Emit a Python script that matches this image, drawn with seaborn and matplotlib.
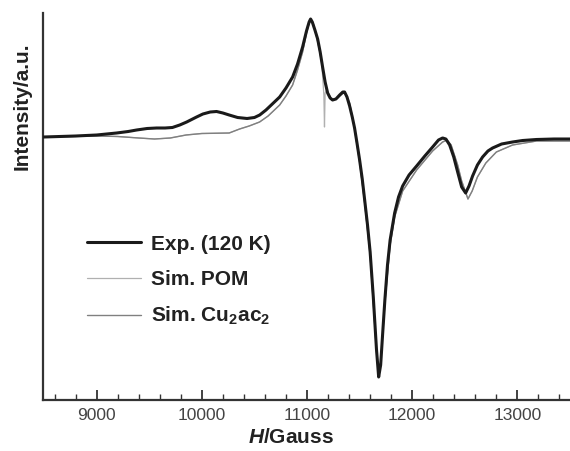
import numpy as np
import pandas as pd
import matplotlib
matplotlib.use("Agg")
import matplotlib.pyplot as plt
from matplotlib.ticker import MultipleLocator, NullLocator
import seaborn as sns

# ---- data (intensity in arbitrary units) ----
exp_field = [8496, 8800, 9000, 9190, 9300, 9380, 9480, 9570, 9650, 9720, 9790, 9856,
             9950, 10010, 10080, 10140, 10200, 10260, 10340, 10430, 10500, 10550, 10610,
             10670, 10740, 10800, 10863, 10910, 10958, 10995, 11020, 11034, 11050, 11075,
             11101, 11125, 11148, 11172, 11196, 11220, 11243, 11275, 11310, 11340, 11357,
             11380, 11405, 11430, 11452, 11475, 11500, 11525, 11548, 11575, 11600, 11630,
             11660, 11681, 11700, 11720, 11740, 11765, 11790, 11833, 11870, 11909, 11970,
             12042, 12120, 12194, 12250, 12289, 12320, 12356, 12395, 12432, 12470, 12508,
             12540, 12574, 12620, 12669, 12720, 12764, 12850, 12954, 13050, 13182, 13350,
             13500]
exp_int = [0, 1, 2, 4, 5.5, 7, 8.5, 9, 9, 9.5, 12, 15,
           20, 23, 25, 25.5, 24, 22, 19.5, 18.5, 19.5, 22, 27,
           33, 40, 49, 60, 73, 90, 106, 115, 118, 115, 107,
           98, 85, 70, 55, 44, 39, 37, 38, 42, 45, 45,
           40, 31, 20, 9, -6, -23, -42, -63, -88, -115, -160,
           -212, -240, -228, -195, -163, -128, -103, -76, -60, -49, -38,
           -29, -19, -10, -3, -1, -2, -8, -20, -35, -50, -56,
           -49, -39, -28, -20, -14, -11, -7, -5, -3.5, -2.5, -2,
           -2]

cu_field = [8496, 9000, 9200, 9400, 9550, 9700, 9850, 10000, 10260, 10359, 10450, 10549,
            10630, 10740, 10800, 10863, 10910, 10958, 10995, 11020, 11040, 11060, 11090,
            11120, 11148, 11186, 11234, 11291, 11357, 11405, 11452, 11500, 11548, 11600,
            11660, 11681, 11700, 11740, 11790, 11833, 11909, 12042, 12194, 12289, 12330,
            12370, 12432, 12470, 12530, 12570, 12620, 12700, 12800, 12954, 13182, 13500]
cu_int = [0, 1, 0.5, -1, -2, -1, 2, 3.5, 4, 8, 11, 15,
          21, 32, 41, 52, 67, 85, 104, 114, 117, 113, 101,
          86, 69, 47, 37, 39, 45, 34, 8, -25, -66, -118,
          -214, -238, -226, -166, -108, -80, -54, -33, -14, -5, -3,
          -8, -28, -44, -62, -54, -40, -26, -15, -8, -4, -4]

pom_field = [8496, 9000, 9200, 9400, 9550, 9700, 9850, 10000, 10260, 10359, 10450, 10549,
             10630, 10740, 10800, 10863, 10910, 10958, 10995, 11020, 11040, 11060, 11090,
             11120, 11140, 11160, 11166, 11172, 11186, 11234, 11291, 11357, 11405, 11452,
             11500, 11548, 11600, 11660, 11681, 11700, 11740, 11790, 11833, 11909, 12042,
             12194, 12289, 12330, 12370, 12432, 12470, 12530, 12570, 12620, 12700, 12800,
             12954, 13182, 13500]
pom_int = [0, 1, 0.5, -1, -2, -1, 2, 3.5, 4, 8, 11, 15,
           21, 32, 41, 52, 67, 85, 104, 114, 117, 113, 101,
           86, 74, 42, 10, 44, 47, 37, 39, 45, 34, 8,
           -25, -66, -118, -214, -238, -226, -166, -108, -80, -54, -33,
           -14, -5, -3, -8, -28, -44, -62, -54, -40, -26, -15,
           -8, -4, -4]

x_ticks = [9000, 10000, 11000, 12000, 13000]
labels = ["Exp. (120 K)", "Sim. POM", "Sim. Cu$_2$ac$_2$"]

# ---- style ----
sns.set_theme(style="white")
plt.rcParams["font.family"] = ["Liberation Sans", "DejaVu Sans"]
plt.rcParams["mathtext.fontset"] = "custom"
plt.rcParams["mathtext.rm"] = "Liberation Sans:bold"
plt.rcParams["mathtext.bf"] = "Liberation Sans:bold"
plt.rcParams["mathtext.it"] = "Liberation Sans:italic:bold"
plt.rcParams["xtick.bottom"] = True
plt.rcParams["xtick.minor.visible"] = True
plt.rcParams["xtick.direction"] = "in"
plt.rcParams["lines.solid_joinstyle"] = "round"

fig = plt.figure(figsize=(5.7, 4.51), dpi=100)
ax = fig.add_axes([43 / 570, 51 / 451, 527 / 570, 387 / 451])

df_cu = pd.DataFrame({"H": cu_field, "I": cu_int})
df_pom = pd.DataFrame({"H": pom_field, "I": pom_int})
df_exp = pd.DataFrame({"H": exp_field, "I": exp_int})

sns.lineplot(data=df_pom, x="H", y="I", ax=ax, color="#b0b0b0", lw=0.9,
             label=labels[1], sort=False, zorder=2)
sns.lineplot(data=df_cu, x="H", y="I", ax=ax, color="#808080", lw=1.0,
             label=labels[2], sort=False, zorder=3)
sns.lineplot(data=df_exp, x="H", y="I", ax=ax, color="#1a1a1a", lw=2.2,
             label=labels[0], sort=False, zorder=4)

ax.set_xlim(8490, 13500)
ax.set_ylim(-263, 124)

for s in ["top", "right"]:
    ax.spines[s].set_visible(False)
for s in ["left", "bottom"]:
    ax.spines[s].set_color("#333333")
    ax.spines[s].set_linewidth(1.6)

ax.set_xticks(x_ticks)
ax.set_xticklabels([str(t) for t in x_ticks])
ax.xaxis.set_minor_locator(MultipleLocator(200))
ax.yaxis.set_major_locator(NullLocator())
ax.yaxis.set_minor_locator(NullLocator())
ax.tick_params(axis="x", which="major", direction="in", length=7, width=1.3,
               color="#333333", labelsize=12.5, labelcolor="#444444", pad=6,
               bottom=True)
ax.tick_params(axis="x", which="minor", direction="in", length=4, width=1.0,
               color="#333333", bottom=True)

ax.set_xlabel(r"$\mathit{H}$/Gauss", fontsize=15, fontweight="bold", color="#222222")
ax.xaxis.set_label_coords(0.47, -0.072)
ax.xaxis.label.set_va("top")
ax.set_ylabel("Intensity/a.u.", fontsize=15, fontweight="bold", color="#222222")
ax.yaxis.set_label_coords(-0.021, 0.76)

h, l = ax.get_legend_handles_labels()
order = [l.index(lab) for lab in labels]
leg = ax.legend([h[i] for i in order], [l[i] for i in order],
                loc="upper left", bbox_to_anchor=(0.055, 0.465),
                frameon=False, fontsize=15, handlelength=2.6,
                handletextpad=0.5, labelspacing=0.78, borderpad=0.2)
for t in leg.get_texts():
    t.set_fontweight("bold")
    t.set_color("#222222")

fig.savefig("out.png", dpi=100)
